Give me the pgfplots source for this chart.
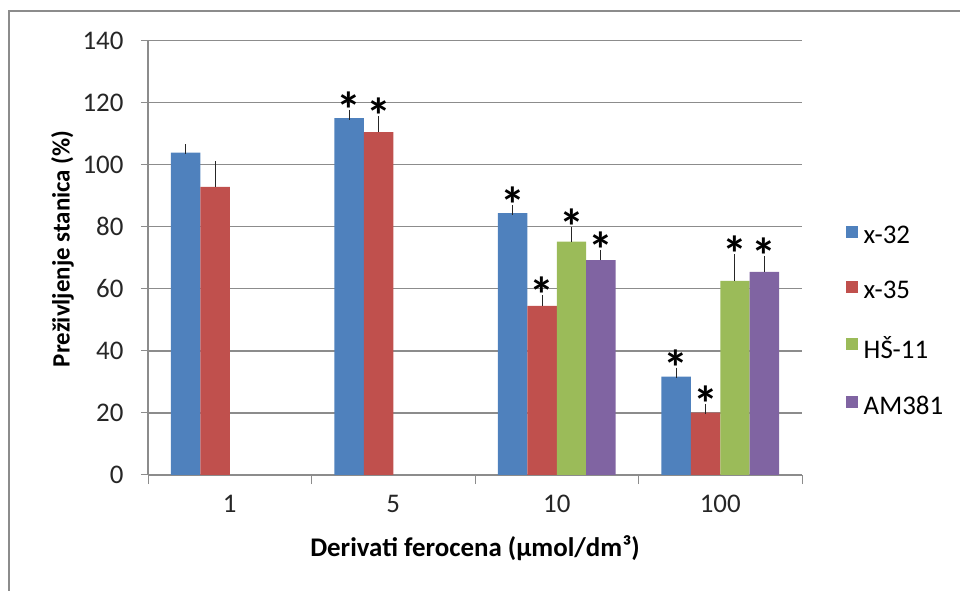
\documentclass[border=0pt]{standalone}
\usepackage{pgfplots}
\pgfplotsset{compat=1.18}
\usepackage{fontspec}
\setmainfont{Carlito}
\definecolor{cA}{HTML}{4F81BD}
\definecolor{cB}{HTML}{C0504D}
\definecolor{cC}{HTML}{9BBB59}
\definecolor{cD}{HTML}{8064A2}
\definecolor{gridc}{HTML}{8C8C8C}
\pgfplotsset{errs/.style={error bars/y dir=plus, error bars/y explicit,
    error bars/error bar style={black!85, line width=1bp},
    error bars/error mark options={black!85, line width=1bp, mark size=5bp}}}
\begin{document}
\begin{tikzpicture}
\useasboundingbox (0,0) rectangle (960bp,591bp);
\draw[gridc, line width=2bp] (9bp,0) -- (9bp,580bp) -- (960bp,580bp);
\begin{axis}[
    at={(148bp,116bp)}, anchor=south west,
    scale only axis, width=654bp, height=434.3bp,
    ybar, bar width=0.18,
    xmin=-0.5, xmax=3.5, ymin=0, ymax=140,
    xtick={0,1,2,3}, xticklabels={1,5,10,100},
    minor xtick={-0.5,0.5,1.5,2.5,3.5},
    major x tick style={draw=none},
    ytick={0,20,...,140},
    axis lines*=left,
    tick align=outside,
    major tick length=7bp, minor tick length=9bp,
    every tick/.style={gridc, line width=1bp},
    axis line style={gridc, line width=1.2bp},
    ymajorgrids, grid style={gridc, line width=1.2bp},
    /pgf/number format/assume math mode=true,
    tick label style={font=\fontsize{27}{30}\selectfont, text=black!85},
    yticklabel style={xshift=-14bp},
    xticklabel style={yshift=-10bp},
    xlabel={\bfseries Derivati ferocena (µmol/dm³)},
    ylabel={\bfseries Preživljenje stanica (\%)},
    xlabel style={font=\fontsize{27}{30}\selectfont, text=black, yshift=-16bp},
    ylabel style={font=\fontsize{25}{30}\selectfont, text=black, yshift=2bp, xshift=9bp},
    legend style={at={(1.062,0.58)}, anchor=north west, draw=none,
        font=\fontsize{27}{30}\selectfont, row sep=34bp,
        nodes={inner sep=1bp},
        /tikz/every odd column/.append style={column sep=5bp}},
    legend cell align=left,
    legend image code/.code={\fill[#1, draw=none] (0bp,-2bp) rectangle (12bp,10bp);},
]
\addplot[fill=cA, draw=none, bar shift=-0.27, errs] coordinates
    {(0,103.9) +- (0,1.1) (1,115.0) +- (0,1.2) (2,84.4) +- (0,1.1) (3,31.7) +- (0,1.3)};
\addlegendentry{x-32}
\addplot[fill=cB, draw=none, bar shift=-0.09, errs] coordinates
    {(0,92.9) +- (0,6.6) (1,110.5) +- (0,3.6) (2,54.5) +- (0,1.9) (3,20.1) +- (0,1.2)};
\addlegendentry{x-35}
\addplot[fill=cC, draw=none, bar shift=0.09, errs] coordinates
    {(2,75.2) +- (0,3.2) (3,62.6) +- (0,7.0)};
\addlegendentry{HŠ-11}
\addplot[fill=cD, draw=none, bar shift=0.27, errs] coordinates
    {(2,69.3) +- (0,1.6) (3,65.5) +- (0,3.5)};
\addlegendentry{AM381}
% asterisks above the error bars
\pgfplotsset{every axis plot/.append style={forget plot, draw=none, fill=none,
    nodes near coords={*}, point meta=y,
    every node near coord/.append style={anchor=south, inner sep=0pt, yshift=-13bp,
        font=\bfseries\fontsize{50}{50}\selectfont, text=black}}}
\addplot[bar shift=-0.27] coordinates {(1,116.2) (2,85.5) (3,33.0)};
\addplot[bar shift=-0.09] coordinates {(1,114.1) (2,56.4) (3,21.3)};
\addplot[bar shift=0.09] coordinates {(2,78.4) (3,69.6)};
\addplot[bar shift=0.27] coordinates {(2,70.9) (3,69.0)};
\end{axis}
\end{tikzpicture}
\end{document}
